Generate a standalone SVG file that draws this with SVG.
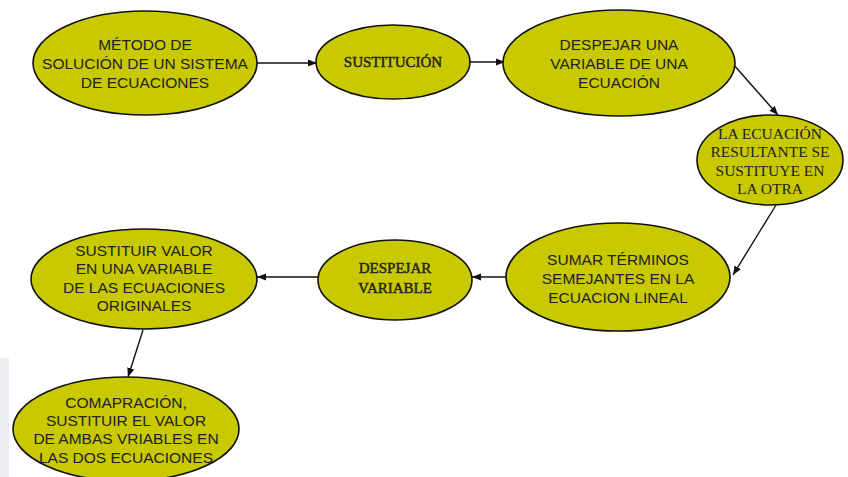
<svg xmlns="http://www.w3.org/2000/svg" width="848" height="477" viewBox="0 0 848 477">
<style>
.n{fill:#c9c900;stroke:#111;stroke-width:1.6}
.s{font-family:"Liberation Sans",Arial,sans-serif;font-size:15.5px;fill:#222;text-anchor:middle;dominant-baseline:central}
.t{font-family:"Liberation Serif","Times New Roman",serif;font-size:15.5px;fill:#222;text-anchor:middle;dominant-baseline:central}
.b{font-size:15px;stroke:#222;stroke-width:0.45}
.c{stroke:#111;stroke-width:1.4;fill:none;marker-end:url(#a)}
</style>
<defs>
<marker id="a" viewBox="0 0 10 10" refX="10" refY="5" markerWidth="9" markerHeight="9" markerUnits="userSpaceOnUse" orient="auto">
<path d="M0,1 L10,5 L0,9 z" fill="#111"/>
</marker>
</defs>
<rect x="0" y="358" width="9" height="119" fill="#efedf4"/>
<g id="connectors">
<line class="c" x1="257" y1="63" x2="317" y2="63"/>
<line class="c" x1="470" y1="62" x2="505" y2="62"/>
<line class="c" x1="733" y1="64" x2="778" y2="115"/>
<line class="c" x1="776" y1="205" x2="733" y2="275"/>
<line class="c" x1="506" y1="277" x2="472" y2="277"/>
<line class="c" x1="318" y1="277" x2="257" y2="277"/>
<line class="c" x1="143" y1="330" x2="128" y2="377"/>
</g>
<g id="n1">
<ellipse class="n" cx="145" cy="63" rx="112" ry="52"/>
<text class="s" x="145" y="44">MÉTODO DE</text>
<text class="s" x="145" y="63">SOLUCIÓN DE UN SISTEMA</text>
<text class="s" x="145" y="82">DE ECUACIONES</text>
</g>
<g id="n2">
<ellipse class="n" cx="393" cy="62" rx="77" ry="37"/>
<text class="t b" x="393" y="62">SUSTITUCIÓN</text>
</g>
<g id="n3">
<ellipse class="n" cx="619" cy="63" rx="116" ry="53"/>
<text class="s" x="619" y="44">DESPEJAR UNA</text>
<text class="s" x="619" y="63">VARIABLE DE UNA</text>
<text class="s" x="619" y="82">ECUACIÓN</text>
</g>
<g id="n4">
<ellipse class="n" cx="770" cy="160" rx="73" ry="45"/>
<text class="t" x="770" y="133">LA ECUACIÓN</text>
<text class="t" x="770" y="151">RESULTANTE SE</text>
<text class="t" x="770" y="170">SUSTITUYE EN</text>
<text class="t" x="770" y="188">LA OTRA</text>
</g>
<g id="n5">
<ellipse class="n" cx="618" cy="277" rx="112" ry="54"/>
<text class="s" x="618" y="259">SUMAR TÉRMINOS</text>
<text class="s" x="618" y="278">SEMEJANTES EN LA</text>
<text class="s" x="618" y="297">ECUACION LINEAL</text>
</g>
<g id="n6">
<ellipse class="n" cx="395" cy="280" rx="77" ry="40"/>
<text class="t b" x="395" y="268">DESPEJAR</text>
<text class="t b" x="395" y="288">VARIABLE</text>
</g>
<g id="n7">
<ellipse class="n" cx="144" cy="279" rx="113" ry="50"/>
<text class="s" x="144" y="250">SUSTITUIR VALOR</text>
<text class="s" x="144" y="268">EN UNA VARIABLE</text>
<text class="s" x="144" y="287">DE LAS ECUACIONES</text>
<text class="s" x="144" y="305">ORIGINALES</text>
</g>
<g id="n8">
<ellipse class="n" cx="126" cy="429" rx="113" ry="52"/>
<text class="s" x="126" y="402">COMAPRACIÓN,</text>
<text class="s" x="126" y="420">SUSTITUIR EL VALOR</text>
<text class="s" x="126" y="438">DE AMBAS VRIABLES EN</text>
<text class="s" x="126" y="457">LAS DOS ECUACIONES</text>
</g>
</svg>
